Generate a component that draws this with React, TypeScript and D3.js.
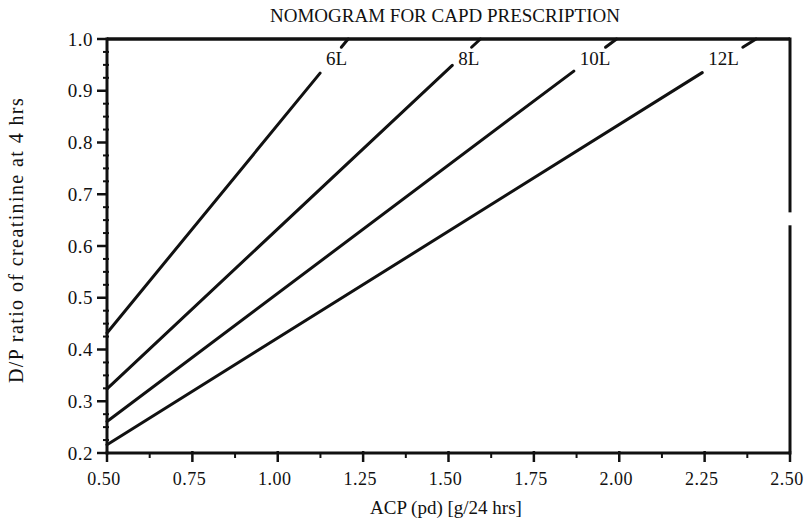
import React from "react";
import * as d3 from "d3";

const volumes = ["6L", "8L", "10L", "12L"];
const acpStart = [0.5, 0.5, 0.5, 0.5];
const dpStart = [0.432, 0.324, 0.261, 0.216];
const acpEnd = [1.124, 1.511, 1.867, 2.243];
const dpEnd = [0.934, 0.949, 0.938, 0.935];
const xTicks = [0.5, 0.75, 1.0, 1.25, 1.5, 1.75, 2.0, 2.25, 2.5];
const yTicks = [0.2, 0.3, 0.4, 0.5, 0.6, 0.7, 0.8, 0.9, 1.0];
const title = "NOMOGRAM FOR CAPD PRESCRIPTION";
const xTitle = "ACP (pd) [g/24 hrs]";
const yTitle = "D/P ratio of creatinine at 4 hrs";

const W = 806;
const H = 525;
const FONT = "'Liberation Serif', 'Times New Roman', serif";
const INK = "#111";

export default function App() {
  const x = d3.scaleLinear().domain([0.5, 2.5]).range([107, 790]);
  const y = d3.scaleLinear().domain([0.2, 1.0]).range([453, 39]);
  const line = d3.line<[number, number]>().x((d) => x(d[0])).y((d) => y(d[1]));

  const xMinor = d3.range(0.625, 2.5, 0.25);
  const yMinor = d3
    .range(0, 33)
    .map((i) => 0.2 + i * 0.025)
    .filter((v) => Math.abs(Math.round(v * 10) - v * 10) > 0.01);

  const series = volumes.map((name, i) => {
    const slope = (dpEnd[i] - dpStart[i]) / (acpEnd[i] - acpStart[i]);
    const acpAt = (dp: number) => acpStart[i] + (dp - dpStart[i]) / slope;
    return {
      name,
      pts: [[acpStart[i], dpStart[i]], [acpEnd[i], dpEnd[i]]] as [number, number][],
      top: [[acpAt(0.984), 0.984], [acpAt(1.0), 1.0]] as [number, number][],
      end: [acpEnd[i], dpEnd[i]],
    };
  });

  const fmtX = d3.format(".2f");
  const fmtY = d3.format(".1f");
  const x0 = x(0.5), x1 = x(2.5), y0 = y(0.2), y1 = y(1.0);

  return (
    <svg width={W} height={H} style={{ position: "absolute", left: 0, top: 0, background: "#fff" }} fontFamily={FONT}>
      <rect x={0} y={0} width={W} height={H} fill="#fff" />
      <text x={445} y={22} textAnchor="middle" fontSize={19} fill={INK}>{title}</text>

      {/* frame */}
      <line x1={x0} y1={y1} x2={x1} y2={y1} stroke={INK} strokeWidth={3.5} />
      <line x1={x0} y1={y0} x2={x1} y2={y0} stroke={INK} strokeWidth={3} />
      <line x1={x0} y1={y0 + 1.5} x2={x0} y2={y1 - 1.5} stroke={INK} strokeWidth={3} />
      <line x1={x1} y1={y1 - 1.5} x2={x1} y2={y(0.665)} stroke={INK} strokeWidth={3} />
      <line x1={x1} y1={y(0.64)} x2={x1} y2={y0 + 1.5} stroke={INK} strokeWidth={3} />

      {/* x ticks */}
      {xTicks.map((t) => (
        <g key={"xt" + t}>
          <line x1={x(t)} y1={y0 - 2} x2={x(t)} y2={y0 + 9} stroke={INK} strokeWidth={2.5} />
          <text x={x(t) - 3} y={y0 + 32} textAnchor="middle" fontSize={18} letterSpacing={0.5} fill={INK}>{fmtX(t)}</text>
        </g>
      ))}
      {xMinor.map((t) => (
        <line key={"xm" + t} x1={x(t)} y1={y0} x2={x(t)} y2={y0 + 5} stroke={INK} strokeWidth={2} />
      ))}

      {/* y ticks */}
      {yTicks.map((t) => (
        <g key={"yt" + t}>
          <line x1={x0 - 10} y1={y(t)} x2={x0 + 1} y2={y(t)} stroke={INK} strokeWidth={2.5} />
          <text x={x0 - 14} y={y(t)} dy="0.35em" textAnchor="end" fontSize={19} letterSpacing={0.5} fill={INK}>{fmtY(t)}</text>
        </g>
      ))}
      {yMinor.map((t) => (
        <line key={"ym" + t} x1={x0 - 4} y1={y(t)} x2={x0 + 2} y2={y(t)} stroke={INK} strokeWidth={2} />
      ))}

      {/* lines */}
      {series.map((s) => (
        <g key={s.name}>
          <path d={line(s.pts) || ""} fill="none" stroke={INK} strokeWidth={3} strokeLinecap="round" />
          <path d={line(s.top) || ""} fill="none" stroke={INK} strokeWidth={3} strokeLinecap="round" />
          <text x={x(s.end[0]) + 6} y={y(0.95)} fontSize={19} fill={INK}>{s.name}</text>
        </g>
      ))}

      <text x={446} y={514} textAnchor="middle" fontSize={19} fill={INK}>{xTitle}</text>
      <text transform={`translate(23, 240) rotate(-90)`} textAnchor="middle" fontSize={20} letterSpacing={1.4} fill={INK}>{yTitle}</text>
    </svg>
  );
}
